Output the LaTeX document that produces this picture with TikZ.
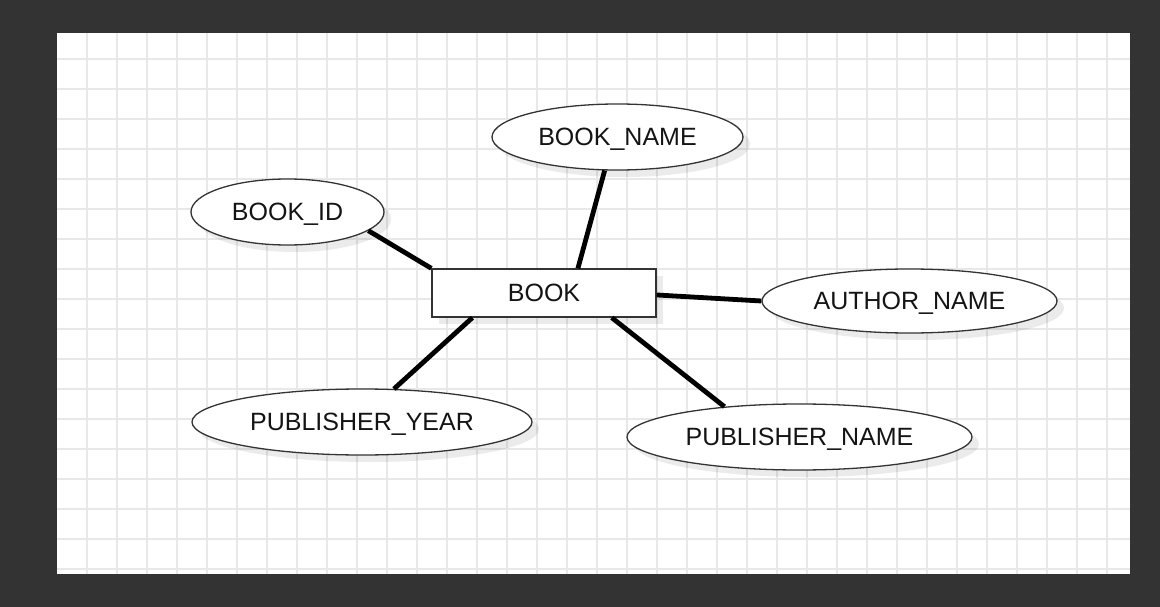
\documentclass[tikz,border=0pt]{standalone}
\usepackage{fontspec}
\setmainfont{Liberation Sans}
\usetikzlibrary{shapes.geometric,shadows}
\definecolor{bgdark}{HTML}{333333}
\definecolor{gridc}{HTML}{E8E8E8}
\definecolor{edgec}{HTML}{333333}
\definecolor{txtc}{HTML}{141414}
\tikzset{
  attr/.style={ellipse, draw=edgec, line width=1.3pt, fill=white, inner sep=0pt,
    font=\fontsize{25}{25}\selectfont, text=txtc, text depth=0pt,
    drop shadow={shadow xshift=7pt, shadow yshift=-7pt, fill=black, opacity=0.08}},
  entity/.style={rectangle, draw=edgec, line width=1.3pt, fill=white, inner sep=0pt,
    minimum width=224pt, minimum height=48pt,
    font=\fontsize{25}{25}\selectfont, text=txtc, text depth=0pt,
    drop shadow={shadow xshift=7pt, shadow yshift=-7pt, fill=black, opacity=0.08}},
  conn/.style={line width=4.8pt, black},
  gridline/.style={gridc, line width=1.4pt}
}
\begin{document}
\begin{tikzpicture}[x=1pt, y=-1pt]
\useasboundingbox (0,0) rectangle (1160,607);
\fill[bgdark] (0,0) rectangle (1160,607);
\fill[white] (57,33) rectangle (1130,574);
\foreach \gx in {87,117,...,1107} \draw[gridline] (\gx,33) -- (\gx,574);
\foreach \gy in {59,89,...,569} \draw[gridline] (57,\gy) -- (1130,\gy);

\node[entity] (book) at (544,293) {BOOK};
\node[attr, minimum width=193pt, minimum height=66pt] (bookid) at (287.5,212) {BOOK\_ID};
\node[attr, minimum width=251pt, minimum height=66pt] (bookname) at (617.5,137) {BOOK\_NAME};
\node[attr, minimum width=295pt, minimum height=64pt] (author) at (909.5,301) {AUTHOR\_NAME};
\node[attr, minimum width=340pt, minimum height=66pt] (pubyear) at (362,422) {PUBLISHER\_YEAR};
\node[attr, minimum width=345pt, minimum height=66pt] (pubname) at (799.5,437) {PUBLISHER\_NAME};

\draw[conn] (bookid.-13.6) -- (book.north west);
\draw[conn] (bookname.-111.3) -- (book.36);
\draw[conn] (author.180) -- (book.-1.5);
\draw[conn] (pubyear.46.8) -- (book.-161.6);
\draw[conn] (pubname.158.7) -- (book.-20.3);
\end{tikzpicture}
\end{document}
